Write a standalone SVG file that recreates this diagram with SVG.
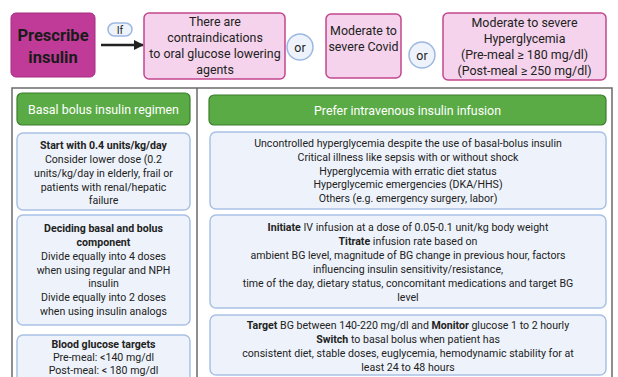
<svg xmlns="http://www.w3.org/2000/svg" width="618" height="377" viewBox="0 0 618 377">
<defs>
<style>
text{font-family:Roboto,"Liberation Sans",sans-serif;fill:#222;text-anchor:middle}
.pink{fill:#f5d3ec;stroke:#c2478f;stroke-width:1.5}
.mag{fill:#c03b98;stroke:#a52d82;stroke-width:1}
.or{fill:#eef3fb;stroke:#9db8e2;stroke-width:1.5}
.green{fill:#5aab45;stroke:#3c7d2e;stroke-width:1.2}
.blue{fill:#eef3fb;stroke:#a9c1e6;stroke-width:1.5}
.t13{font-size:12.4px}
.t11{font-size:10.6px}
.hd{font-size:12.4px;fill:#fff}
.b{font-weight:bold}
.frame{fill:none;stroke:#6b6b6b;stroke-width:1.5}
</style>
<marker id="ah" viewBox="0 0 10 10" refX="9" refY="5" markerWidth="4" markerHeight="4" orient="auto"><path d="M0,0L10,5L0,10z" fill="#222"/></marker>
</defs>
<rect width="618" height="377" fill="#fff"/>

<g id="connectors">
<line x1="101" y1="45" x2="143" y2="45" stroke="#222" stroke-width="2.5" marker-end="url(#ah)"/>
</g>

<g id="prescribe">
<rect class="mag" x="11" y="13" width="84" height="64" rx="5"/>
<text x="53" y="41" style="font-size:16.5px;font-weight:bold;fill:#1a1a1a">Prescribe</text>
<text x="53" y="63" style="font-size:16.5px;font-weight:bold;fill:#1a1a1a">insulin</text>
</g>

<g id="if">
<rect class="or" x="108" y="23" width="24" height="13" rx="6.5"/>
<text x="120" y="33.5" class="t11">If</text>
</g>

<g id="contra">
<rect class="pink" x="144" y="13" width="141" height="66" rx="5"/>
<text x="215" y="26" class="t13">There are</text>
<text x="215" y="42" class="t13">contraindications</text>
<text x="215" y="58" class="t13">to oral glucose lowering</text>
<text x="215" y="74" class="t13">agents</text>
</g>

<g id="or1">
<circle class="or" cx="300" cy="47" r="13"/>
<text x="300" y="51.5" class="t13">or</text>
</g>

<g id="covid">
<rect class="pink" x="326" y="14" width="75" height="64" rx="5"/>
<text x="363.5" y="35" class="t13">Moderate to</text>
<text x="363.5" y="51" class="t13">severe Covid</text>
</g>

<g id="or2">
<circle class="or" cx="422" cy="55" r="13"/>
<text x="422" y="59.5" class="t13">or</text>
</g>

<g id="hyper">
<rect class="pink" x="443" y="13" width="163" height="67" rx="5"/>
<text x="524.5" y="27" class="t13">Moderate to severe</text>
<text x="524.5" y="43" class="t13">Hyperglycemia</text>
<text x="524.5" y="59" class="t13">(Pre-meal ≥ 180 mg/dl)</text>
<text x="524.5" y="75" class="t13">(Post-meal ≥ 250 mg/dl)</text>
</g>

<g id="frame">
<path class="frame" d="M12,380V88H612V380M197,88V380"/>
</g>

<g id="basal-header">
<rect class="green" x="17" y="93" width="173" height="32" rx="5"/>
<text x="103.5" y="113.5" class="hd">Basal bolus insulin regimen</text>
</g>

<g id="start">
<rect class="blue" x="17" y="133" width="173" height="77" rx="6"/>
<text x="103.5" y="149" class="t11 b">Start with 0.4 units/kg/day</text>
<text x="103.5" y="163" class="t11">Consider lower dose (0.2</text>
<text x="103.5" y="177" class="t11">units/kg/day in elderly, frail or</text>
<text x="103.5" y="191" class="t11">patients with renal/hepatic</text>
<text x="103.5" y="204" class="t11">failure</text>
</g>

<g id="deciding">
<rect class="blue" x="17" y="215" width="173" height="110" rx="6"/>
<text x="103.5" y="232" class="t11 b">Deciding basal and bolus</text>
<text x="103.5" y="246" class="t11 b">component</text>
<text x="103.5" y="260" class="t11">Divide equally into 4 doses</text>
<text x="103.5" y="274" class="t11">when using regular and NPH</text>
<text x="103.5" y="287" class="t11">insulin</text>
<text x="103.5" y="301" class="t11">Divide equally into 2 doses</text>
<text x="103.5" y="315" class="t11">when using insulin analogs</text>
</g>

<g id="targets">
<rect class="blue" x="17" y="335" width="173" height="60" rx="6"/>
<text x="103.5" y="348" class="t11 b">Blood glucose targets</text>
<text x="103.5" y="361" class="t11">Pre-meal: &lt;140 mg/dl</text>
<text x="103.5" y="374" class="t11">Post-meal: &lt; 180 mg/dl</text>
</g>

<g id="iv-header">
<rect class="green" x="209" y="95" width="397" height="30" rx="5"/>
<text x="407.5" y="114.5" class="hd">Prefer intravenous insulin infusion</text>
</g>

<g id="indications">
<rect class="blue" x="210" y="132" width="396" height="77" rx="6"/>
<text x="408" y="147" class="t11">Uncontrolled hyperglycemia despite the use of basal-bolus insulin</text>
<text x="408" y="161" class="t11">Critical illness like sepsis with or without shock</text>
<text x="408" y="175" class="t11">Hyperglycemia with erratic diet status</text>
<text x="408" y="188" class="t11">Hyperglycemic emergencies (DKA/HHS)</text>
<text x="408" y="202" class="t11">Others (e.g. emergency surgery, labor)</text>
</g>

<g id="initiate">
<rect class="blue" x="210" y="215" width="396" height="93" rx="6"/>
<text x="408" y="231" class="t11"><tspan class="b">Initiate</tspan> IV infusion at a dose of 0.05-0.1 unit/kg body weight</text>
<text x="408" y="245" class="t11"><tspan class="b">Titrate</tspan>  infusion rate based on</text>
<text x="408" y="259" class="t11">ambient BG level, magnitude of BG change in previous hour,  factors</text>
<text x="408" y="273" class="t11">influencing insulin sensitivity/resistance,</text>
<text x="408" y="287" class="t11">time of the day, dietary status, concomitant medications and  target BG</text>
<text x="408" y="301" class="t11">level</text>
</g>

<g id="target-iv">
<rect class="blue" x="210" y="315" width="396" height="60" rx="6"/>
<text x="408" y="329" class="t11"><tspan class="b">Target</tspan> BG between 140-220 mg/dl and <tspan class="b">Monitor</tspan> glucose 1 to 2 hourly</text>
<text x="408" y="343" class="t11"><tspan class="b">Switch</tspan> to basal bolus when patient has</text>
<text x="408" y="357" class="t11">consistent diet, stable doses, euglycemia, hemodynamic stability for at</text>
<text x="408" y="371" class="t11">least 24 to 48 hours</text>
</g>
</svg>
